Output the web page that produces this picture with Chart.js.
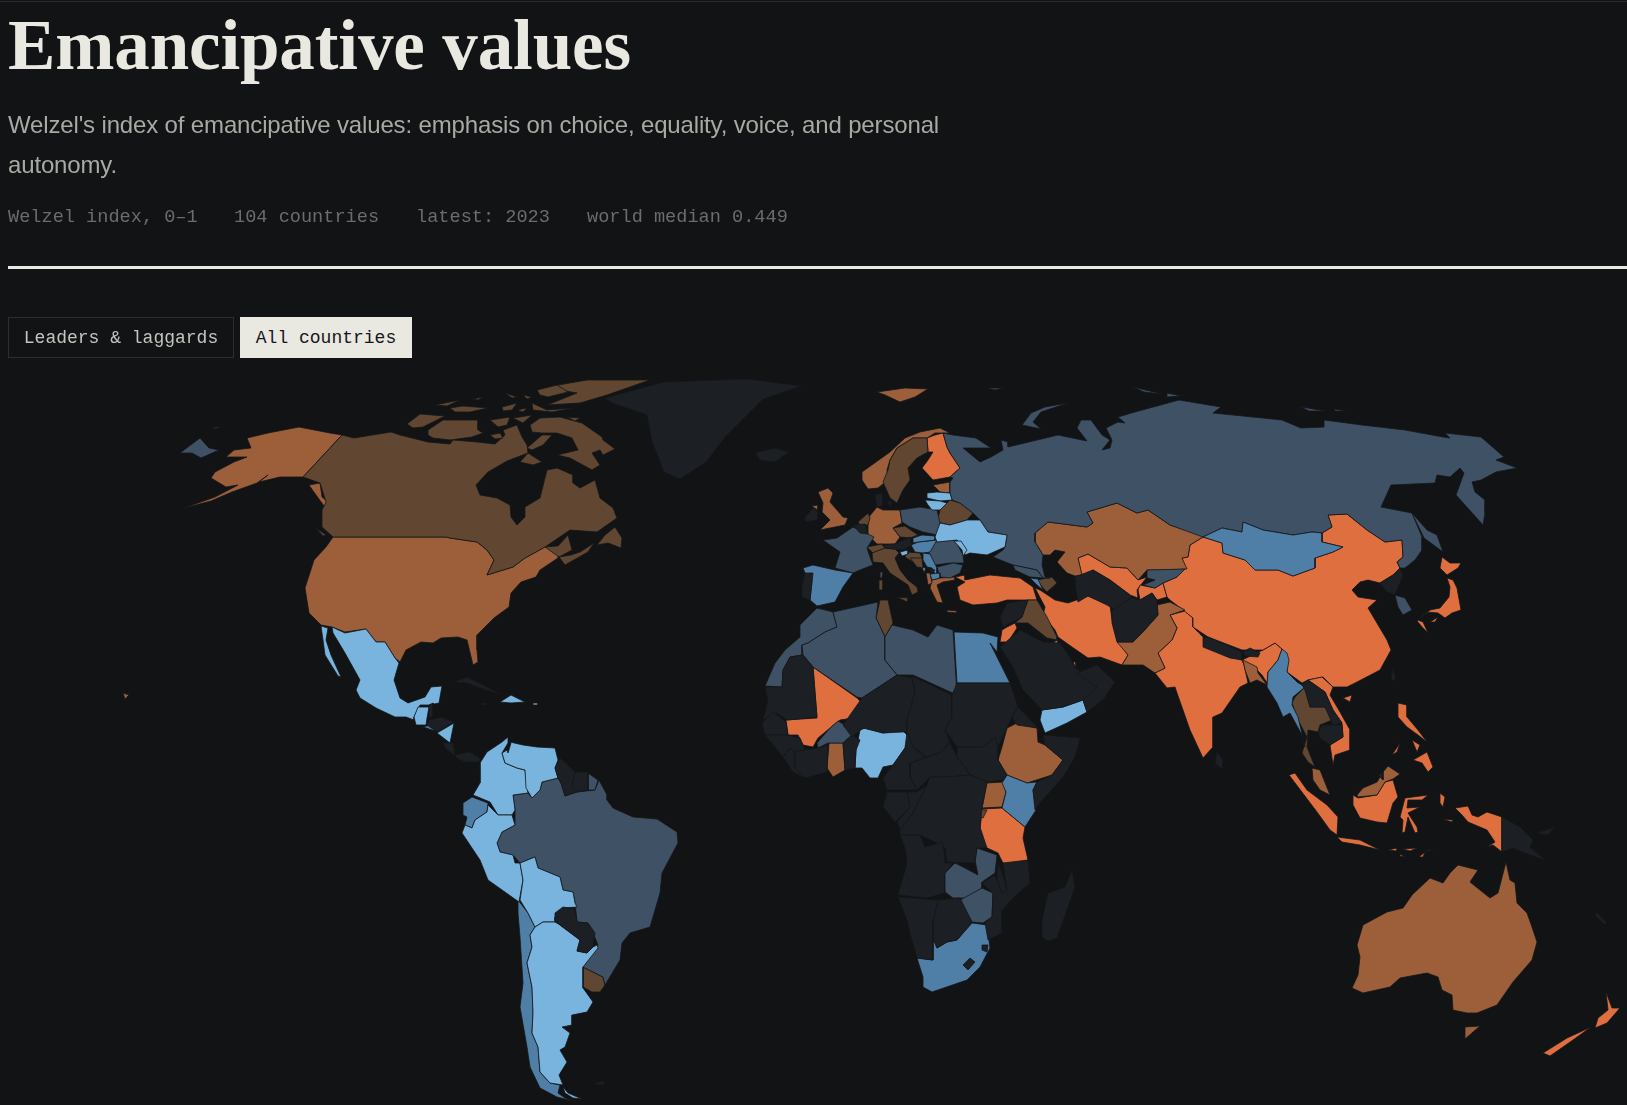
<!DOCTYPE html>
<html>
<head>
<meta charset="utf-8">
<title>Emancipative values</title>
<script src="https://cdn.jsdelivr.net/npm/chart.js@4"></script>
<style>
html, body { margin: 0; padding: 0; background: #111315; width: 1627px; height: 1105px; overflow: hidden; }
#myChart { position: absolute; left: 0; top: 0; }
.topline { position: absolute; left: 0; top: 1px; width: 1627px; height: 1px; background: #2b2d33; }
h1 { position: absolute; left: 8px; top: 5px; margin: 0; font: bold 71px "Liberation Serif", serif; color: #e9e8e1; white-space: nowrap; letter-spacing: -0.12px; }
.sub { position: absolute; left: 8px; top: 105px; width: 960px; font: 24px/39.5px "Liberation Sans", sans-serif; color: #a9a9a4; letter-spacing: -0.15px; }
.meta { position: absolute; top: 207px; font: 18.6px "Liberation Mono", monospace; color: #6b6c6b; white-space: nowrap; }
.rule { position: absolute; left: 8px; top: 266px; width: 1619px; height: 3px; background: #e9e8e1; }
.btn { position: absolute; top: 317px; height: 41px; box-sizing: border-box; font: 18px/41px "Liberation Mono", monospace; text-align: center; white-space: nowrap; }
.off { left: 8px; width: 226px; border: 1px solid #2b2e32; color: #c4c4bf; }
.on { left: 240px; width: 172px; background: #e9e8e1; color: #151719; line-height: 42px; }
</style>
</head>
<body>
<canvas id="myChart" width="1627" height="1105"></canvas>
<div class="topline"></div>
<h1>Emancipative values</h1>
<div class="sub">Welzel's index of emancipative values: emphasis on choice, equality, voice, and personal autonomy.</div>
<div class="meta" style="left:8px">Welzel index, 0–1</div>
<div class="meta" style="left:234px">104 countries</div>
<div class="meta" style="left:416px">latest: 2023</div>
<div class="meta" style="left:587px">world median 0.449</div>
<div class="rule"></div>
<div class="btn off">Leaders &amp; laggards</div>
<div class="btn on">All countries</div>
<script>
// outlines, map units
const canada = [[342,435],[354,438],[391,432],[400,435],[428,442],[450,444],[453,440],[477,442],[495,444],[505,435],[503,430],[517,425],[522,437],[527,445],[528,453],[507,461],[488,472],[476,485],[480,495],[497,498],[510,505],[511,517],[517,525],[525,517],[525,507],[540,498],[542,490],[547,470],[557,468],[573,475],[573,483],[580,488],[595,480],[600,498],[613,508],[617,518],[597,532],[570,530],[545,547],[525,558],[513,567],[487,575],[494,560],[487,550],[477,542],[450,538],[446,537],[333,537],[322,527],[322,510],[326,502],[320,483],[303,477]]
const maritimes = [[545,547],[558,546],[568,535],[572,550],[559,557],[571,555],[580,552],[594,543],[588,552],[565,565],[559,557]]
const newfoundland = [[615,527],[622,538],[621,548],[608,543],[597,545],[605,535]]
const baffin = [[530,425],[540,418],[560,417],[582,423],[602,437],[603,440],[615,449],[603,455],[600,450],[592,453],[600,465],[592,470],[570,458],[557,455],[578,450],[572,438],[557,433],[542,433],[532,432]]
const victoria = [[428,430],[443,420],[467,420],[478,420],[478,430],[483,433],[472,437],[450,440],[433,438],[428,435]]
const banks = [[407,424],[420,414],[445,416],[433,422],[423,427],[413,428]]
const ellesmere = [[558,385],[587,380],[650,380],[627,388],[607,395],[580,403],[547,405],[577,393],[560,390]]
const axel = [[537,390],[557,385],[568,392],[548,397],[540,395]]
const princePatrick = [[435,405],[460,400],[447,406]]
const melville = [[450,408],[463,406],[488,408],[470,412],[455,412]]
const mackenzie = [[473,399],[483,397],[478,400]]
const bathurst = [[502,407],[517,403],[512,410],[503,411]]
const cornwallis = [[517,410],[527,408],[523,412]]
const ringnes = [[505,393],[517,397],[512,398]]
const cornwall = [[523,395],[532,397],[527,399]]
const princeWales = [[490,420],[510,417],[507,425],[498,427]]
const somerset = [[513,418],[532,415],[523,423]]
const kingWilliam = [[490,435],[500,433],[503,438],[495,439]]
const melvillePen = [[527,448],[542,435],[552,435],[543,445],[532,450]]
const southampton = [[520,462],[528,453],[542,462],[533,465]]
const devon = [[532,403],[547,410],[573,408],[552,412],[533,410]]
const bylot = [[567,417],[580,418],[575,421]]
const vancouver = [[316,528],[326,535],[323,536]]
const alaska = [[342,435],[330,433],[299,427],[268,433],[247,438],[251,448],[234,450],[226,457],[247,457],[234,462],[215,472],[211,478],[226,487],[238,485],[215,497],[184,508],[211,501],[232,492],[257,483],[268,475],[259,482],[280,477],[303,477]]
const panhandle = [[303,477],[309,485],[320,483],[322,497],[328,502],[324,506],[316,495],[309,485]]
const hawaii = [[123,693],[129,695],[125,699]]
const usa = [[333,537],[446,537],[450,538],[477,542],[487,550],[494,560],[487,575],[513,567],[525,558],[545,547],[557,546],[558,558],[540,570],[536,577],[521,582],[511,593],[509,607],[494,618],[477,635],[477,650],[478,662],[473,665],[467,640],[458,637],[441,638],[433,643],[421,642],[406,650],[400,662],[395,658],[385,642],[376,642],[366,629],[345,632],[332,627],[321,625],[309,613],[305,588],[314,560],[326,547]]
const mexico = [[332,627],[345,633],[366,629],[376,642],[385,642],[395,658],[399,663],[394,680],[400,698],[408,703],[425,697],[431,687],[442,686],[439,703],[429,705],[420,705],[414,717],[414,720],[406,717],[395,717],[376,708],[360,698],[356,690],[360,680],[345,653],[333,633]]
const baja = [[321,626],[328,628],[326,640],[331,655],[341,677],[338,676],[325,655],[323,640]]
const guatemala = [[414,717],[418,707],[429,707],[427,718],[426,725],[416,725]]
const belize = [[429,705],[433,703],[433,716],[429,718]]
const honduras = [[429,720],[441,717],[454,722],[437,732],[427,725]]
const salvador = [[423,727],[430,725],[435,731]]
const nicaragua = [[437,733],[454,723],[450,743]]
const costaRica = [[442,743],[453,743],[455,755],[447,750]]
const panama = [[455,755],[470,752],[480,758],[480,762],[465,762],[457,758]]
const cuba = [[454,682],[467,677],[483,685],[502,695],[486,690],[467,683]]
const jamaica = [[482,703],[488,703],[488,705],[482,705]]
const dominican = [[500,702],[511,695],[525,702],[511,703]]
const puertoRico = [[533,703],[538,703],[538,705],[533,705]]
const greenland = [[605,398],[664,382],[747,379],[801,386],[763,399],[747,415],[726,436],[706,462],[680,479],[664,472],[652,441],[647,415],[612,403]]
const iceland = [[755,453],[775,448],[789,452],[775,462],[760,460]]
const colombia = [[508,737],[502,742],[487,752],[480,763],[480,783],[473,795],[490,802],[498,815],[512,815],[515,810],[513,795],[528,793],[525,770],[517,768],[505,763],[502,753],[508,743]]
const venezuela = [[510,742],[523,745],[537,747],[555,748],[558,760],[555,768],[558,778],[542,782],[540,790],[532,798],[526,788],[525,770],[517,768],[505,763],[502,753],[507,750],[508,753],[511,743]]
const guyana = [[560,758],[570,767],[575,772],[572,787],[577,792],[565,796],[561,783],[558,778],[555,768]]
const suriname = [[575,772],[588,772],[588,790],[577,792],[572,787]]
const guiana = [[588,773],[598,780],[595,790],[588,790]]
const brazil = [[513,795],[528,793],[532,798],[540,790],[542,782],[558,778],[561,783],[565,796],[577,792],[595,790],[599,780],[607,795],[607,800],[613,808],[633,817],[657,819],[677,832],[678,843],[662,873],[660,893],[650,927],[630,933],[622,943],[620,960],[605,985],[603,977],[583,967],[598,945],[593,933],[588,923],[577,922],[575,903],[573,892],[563,890],[560,877],[538,868],[535,857],[520,863],[513,855],[500,852],[497,843],[502,832],[515,825],[515,810]]
const ecuador = [[472,797],[488,803],[487,812],[475,820],[472,828],[465,825],[467,817],[463,815],[463,803]]
const peru = [[488,805],[498,815],[512,815],[515,825],[502,832],[497,843],[500,852],[513,855],[515,863],[520,863],[523,880],[519,902],[488,880],[480,860],[462,833],[465,825],[472,828],[475,820],[487,812]]
const bolivia = [[520,863],[535,857],[538,868],[560,877],[563,890],[573,892],[575,903],[577,907],[563,908],[555,917],[555,922],[543,922],[535,927],[528,913],[520,900],[523,880]]
const paraguay = [[555,913],[563,907],[575,909],[577,922],[588,923],[595,933],[593,947],[587,953],[577,951],[580,940],[560,925],[555,920]]
const argentina = [[535,927],[543,922],[555,922],[560,925],[580,940],[577,951],[587,953],[593,947],[597,945],[598,948],[583,967],[583,988],[593,1002],[587,1012],[572,1015],[572,1025],[562,1027],[570,1033],[565,1047],[560,1050],[567,1062],[559,1075],[563,1085],[550,1083],[540,1072],[538,1047],[532,1033],[533,1013],[532,987],[527,963],[532,947],[530,935]]
const fuego = [[563,1087],[568,1093],[582,1099],[573,1098],[565,1093]]
const chile = [[518,900],[528,913],[535,927],[530,935],[532,947],[527,963],[532,987],[533,1013],[532,1033],[538,1047],[540,1072],[550,1083],[560,1085],[558,1093],[565,1098],[573,1101],[557,1097],[540,1088],[530,1067],[527,1047],[520,1007],[523,983],[520,937],[518,913]]
const uruguay = [[583,967],[603,977],[605,985],[600,992],[592,992],[583,987]]
const falklands = [[595,1083],[604,1081],[605,1084],[597,1085]]
const norway = [[862,472],[890,452],[905,438],[920,432],[940,428],[950,433],[943,433],[935,433],[927,438],[913,438],[897,448],[890,460],[887,470],[888,480],[878,488],[868,489],[862,480]]
const sweden = [[913,438],[927,438],[928,452],[917,458],[908,468],[910,480],[903,490],[897,503],[890,498],[883,482],[888,470],[890,460],[897,448]]
const finland = [[927,438],[935,435],[943,433],[947,447],[950,453],[960,468],[950,477],[933,480],[922,468],[928,460],[933,452],[928,452]]
const estonia = [[933,485],[950,482],[950,493],[940,492]]
const latvia = [[927,493],[937,492],[950,493],[952,500],[940,501],[927,498]]
const lithuania = [[925,500],[940,501],[947,503],[940,510],[932,510],[928,505]]
const belarus = [[950,500],[960,503],[973,513],[967,520],[950,525],[937,522],[940,510],[947,503]]
const poland = [[900,510],[920,507],[937,510],[940,523],[937,535],[923,532],[910,527],[902,522]]
const ukraine = [[940,523],[950,525],[967,520],[980,520],[988,532],[1007,535],[1005,547],[987,555],[970,553],[965,555],[957,540],[937,542],[935,537]]
const moldova = [[954,541],[961,541],[967,550],[963,556],[962,550]]
const romania = [[928,547],[935,542],[955,540],[963,555],[964,563],[950,563],[935,565],[929,553]]
const bulgaria = [[937,567],[953,563],[963,565],[960,573],[950,578],[940,577]]
const serbia = [[923,553],[930,554],[937,568],[937,578],[932,568],[927,567],[923,560]]
const hungary = [[911,545],[918,542],[937,540],[930,552],[923,553],[915,552]]
const slovakia = [[913,538],[922,535],[935,536],[935,540],[918,542],[913,543]]
const czechia = [[893,528],[905,526],[918,535],[910,538],[900,537]]
const germany = [[877,507],[883,510],[900,510],[902,523],[893,528],[900,537],[895,544],[877,544],[868,535],[868,518]]
const denmark = [[875,495],[882,493],[883,505],[877,507]]
const zealand = [[887,500],[892,502],[890,508]]
const netherlands = [[858,522],[868,513],[870,518],[868,525],[860,525]]
const belgium = [[853,525],[865,524],[868,534],[860,533]]
const france = [[823,540],[837,538],[853,527],[868,534],[874,537],[867,548],[870,557],[873,565],[860,570],[853,573],[835,568],[840,552]]
const corsica = [[880,572],[883,572],[882,578],[880,578]]
const switzerland = [[867,547],[882,544],[885,548],[873,553]]
const austria = [[882,545],[895,544],[910,537],[912,545],[903,550],[893,549],[885,548]]
const slovenia = [[900,552],[908,550],[908,554],[902,556]]
const italy = [[872,553],[885,548],[895,549],[899,553],[895,558],[900,570],[908,580],[917,587],[918,592],[912,595],[908,585],[890,573],[883,563],[873,562]]
const sicily = [[897,597],[908,598],[907,602]]
const sardinia = [[879,580],[883,580],[883,590],[879,590]]
const croatia = [[907,552],[920,553],[923,560],[912,558],[923,570],[913,562],[905,557]]
const bosnia = [[910,558],[922,558],[923,568],[917,567]]
const montenegro = [[922,567],[926,568],[924,573]]
const kosovo = [[928,568],[935,570],[932,573]]
const macedonia = [[930,574],[940,573],[940,578],[932,580]]
const albania = [[926,573],[930,573],[932,583],[928,585]]
const greece = [[932,580],[940,578],[955,577],[955,580],[943,582],[937,585],[943,603],[937,602],[930,588]]
const crete = [[947,610],[957,611],[957,613],[947,612]]
const spain = [[803,568],[813,565],[835,570],[853,573],[843,587],[835,602],[817,606],[810,600],[812,580],[805,573]]
const portugal = [[805,573],[813,573],[810,600],[802,597],[802,587]]
const britain = [[818,492],[828,488],[833,493],[830,502],[843,517],[848,518],[845,525],[820,530],[830,520],[822,512],[823,503]]
const ulster = [[812,506],[818,505],[817,510]]
const ireland = [[805,517],[813,508],[818,512],[817,520],[805,522]]
const svalbard = [[877,392],[905,388],[928,389],[915,397],[900,402],[885,395]]
const russia = [[953,435],[976,438],[991,448],[963,448],[980,462],[991,457],[1003,450],[1001,440],[1008,442],[1008,447],[1033,441],[1058,435],[1087,441],[1077,428],[1081,420],[1091,420],[1102,435],[1110,440],[1102,450],[1110,448],[1112,440],[1106,428],[1118,422],[1125,423],[1118,417],[1135,412],[1179,400],[1221,407],[1213,413],[1263,418],[1282,420],[1301,428],[1324,427],[1324,420],[1362,425],[1405,430],[1443,437],[1450,438],[1445,433],[1481,437],[1504,457],[1496,460],[1517,468],[1496,472],[1481,480],[1472,482],[1475,492],[1485,500],[1485,513],[1483,525],[1456,495],[1464,473],[1460,468],[1450,477],[1437,475],[1435,483],[1391,485],[1381,507],[1412,513],[1422,537],[1422,550],[1415,560],[1405,568],[1400,568],[1397,562],[1403,557],[1402,540],[1385,542],[1367,530],[1347,514],[1328,515],[1332,527],[1322,533],[1312,532],[1293,535],[1263,530],[1243,522],[1242,532],[1222,528],[1203,537],[1170,525],[1148,510],[1137,513],[1117,503],[1087,512],[1093,523],[1087,527],[1048,522],[1035,533],[1035,542],[1043,555],[1042,565],[1045,577],[1050,578],[1043,578],[1037,570],[1013,565],[993,557],[1003,550],[1005,547],[1007,535],[988,532],[980,520],[973,513],[960,503],[952,500],[950,493],[950,482],[953,478],[950,477],[960,468],[950,453],[947,447],[943,433]]
const novaya = [[1068,403],[1045,407],[1031,413],[1022,425],[1041,429],[1033,422],[1041,412]]
const severnaya = [[1133,387],[1162,394],[1144,392]]
const bolshevik = [[1167,393],[1181,396],[1167,397]]
const newSiberia = [[1301,407],[1326,411],[1309,411]]
const kotelny = [[1334,409],[1347,411],[1335,411]]
const franzJosef = [[987,388],[1003,388],[995,390]]
const sakhalin = [[1412,513],[1427,530],[1437,535],[1443,552],[1424,538]]
const chukotka = [[180,453],[200,438],[209,448],[219,450],[201,458],[192,453]]
const wrangel = [[213,428],[222,426],[215,429]]
const georgia = [[1013,565],[1037,570],[1043,578],[1030,577],[1015,570]]
const azerbaijan = [[1037,580],[1052,577],[1057,583],[1047,592],[1043,588]]
const armenia = [[1030,578],[1038,579],[1043,590],[1037,585]]
const turkey = [[955,577],[965,575],[965,580],[990,575],[1020,578],[1033,587],[1037,600],[1007,600],[997,603],[973,605],[960,600],[957,587],[965,582]]
const syria = [[1007,603],[1028,600],[1025,608],[1022,617],[1003,627],[1000,617]]
const jordan = [[1007,627],[1015,623],[1017,628],[1008,642],[1000,642],[1002,630]]
const iraq = [[1028,600],[1037,600],[1047,617],[1057,637],[1057,640],[1047,638],[1028,623],[1015,623],[1022,617],[1025,608]]
const iran = [[1035,588],[1040,590],[1055,600],[1068,603],[1088,596],[1110,605],[1112,620],[1117,640],[1128,655],[1122,665],[1100,657],[1088,658],[1072,647],[1058,637],[1055,630],[1043,615],[1045,607]]
const saudi = [[1000,647],[1020,630],[1043,642],[1060,643],[1070,657],[1075,668],[1093,680],[1097,690],[1083,700],[1063,707],[1042,710],[1023,690],[1013,667]]
const oman = [[1077,673],[1097,665],[1115,682],[1103,700],[1087,712],[1083,700],[1097,687]]
const yemen = [[1042,710],[1063,707],[1083,700],[1087,712],[1067,723],[1045,733],[1040,720]]
const kuwait = [[1053,642],[1058,640],[1058,645]]
const qatar = [[1073,662],[1076,662],[1076,668]]
const kazakhstan = [[1035,533],[1048,522],[1087,527],[1093,523],[1087,512],[1117,503],[1137,513],[1148,510],[1170,525],[1202,535],[1203,537],[1190,545],[1188,557],[1182,558],[1187,569],[1167,570],[1147,570],[1138,580],[1127,568],[1110,567],[1088,554],[1078,558],[1082,575],[1075,576],[1067,573],[1057,562],[1065,552],[1055,550],[1050,555],[1043,555],[1035,542]]
const uzbekistan = [[1078,558],[1088,554],[1110,567],[1127,568],[1138,580],[1147,577],[1137,590],[1138,598],[1130,595],[1110,580],[1093,570],[1082,577]]
const turkmenistan = [[1075,577],[1093,570],[1110,580],[1130,595],[1132,597],[1115,610],[1107,605],[1088,596],[1078,602],[1076,590]]
const kyrgyzstan = [[1147,570],[1185,569],[1177,577],[1163,583],[1155,588],[1143,585],[1155,580],[1147,578]]
const tajikistan = [[1138,590],[1140,585],[1155,588],[1163,583],[1167,597],[1157,600],[1152,593],[1140,600]]
const afghanistan = [[1112,610],[1132,598],[1140,600],[1152,593],[1157,600],[1158,615],[1142,633],[1133,642],[1117,642],[1112,623]]
const pakistan = [[1157,605],[1170,602],[1185,610],[1170,615],[1177,628],[1172,640],[1158,653],[1165,668],[1155,673],[1143,665],[1122,665],[1128,655],[1117,642],[1133,642],[1142,633],[1158,615]]
const india = [[1170,615],[1185,611],[1193,618],[1193,627],[1203,637],[1207,648],[1242,660],[1243,660],[1248,683],[1240,687],[1222,713],[1213,717],[1213,747],[1203,758],[1190,730],[1177,693],[1175,687],[1167,688],[1155,673],[1165,668],[1158,653],[1172,640],[1177,628]]
const indiaEast = [[1242,660],[1263,650],[1275,643],[1282,649],[1278,660],[1268,672],[1267,683],[1262,675],[1257,670],[1243,663]]
const bangladesh = [[1243,660],[1257,667],[1258,673],[1267,685],[1257,680],[1250,683],[1245,670]]
const nepal = [[1203,638],[1208,637],[1242,652],[1242,660],[1230,658],[1203,647]]
const bhutan = [[1243,652],[1250,648],[1260,653],[1258,657],[1245,656]]
const sriLanka = [[1217,752],[1223,760],[1222,769],[1215,763]]
const china = [[1203,537],[1222,543],[1223,553],[1245,560],[1255,570],[1278,570],[1293,576],[1315,568],[1315,558],[1333,552],[1343,547],[1322,542],[1322,533],[1332,527],[1328,515],[1347,514],[1367,530],[1385,542],[1402,540],[1403,557],[1397,562],[1400,568],[1393,575],[1380,583],[1368,580],[1360,582],[1352,590],[1358,597],[1377,600],[1368,608],[1387,640],[1391,650],[1380,670],[1357,682],[1347,687],[1333,687],[1323,677],[1308,680],[1302,683],[1287,672],[1288,660],[1282,649],[1275,643],[1263,650],[1242,650],[1208,637],[1193,627],[1193,618],[1183,610],[1170,600],[1167,597],[1163,583],[1177,577],[1185,569],[1182,558],[1188,557],[1190,545]]
const hainan = [[1343,698],[1352,695],[1350,702]]
const taiwan = [[1393,667],[1396,680],[1391,680]]
const mongolia = [[1203,537],[1222,528],[1242,532],[1243,522],[1263,530],[1293,535],[1312,532],[1322,533],[1322,542],[1343,547],[1333,552],[1315,558],[1315,568],[1293,576],[1278,570],[1255,570],[1245,560],[1223,553],[1222,543]]
const northKorea = [[1380,583],[1393,575],[1400,568],[1403,575],[1395,595],[1387,592]]
const southKorea = [[1395,595],[1405,598],[1412,610],[1403,615],[1398,607]]
const hokkaido = [[1442,557],[1450,563],[1461,563],[1458,568],[1447,575],[1440,568]]
const honshu = [[1447,578],[1453,580],[1457,588],[1461,610],[1452,613],[1445,618],[1438,613],[1427,612],[1418,620],[1423,622],[1428,633],[1423,628],[1417,621],[1430,610],[1440,608],[1449,597],[1450,587]]
const shikoku = [[1430,622],[1438,617],[1435,622]]
const myanmar = [[1268,672],[1278,660],[1282,649],[1287,653],[1289,660],[1287,672],[1297,682],[1305,687],[1293,697],[1292,705],[1298,717],[1305,747],[1302,735],[1290,713],[1283,717],[1277,703],[1267,687]]
const laos = [[1302,685],[1308,680],[1325,692],[1333,710],[1342,723],[1333,725],[1325,707],[1310,707],[1305,690]]
const thailand = [[1305,687],[1310,707],[1325,707],[1332,720],[1320,725],[1318,732],[1308,730],[1307,747],[1315,767],[1308,762],[1302,753],[1307,737],[1298,720],[1292,703],[1295,697]]
const cambodia = [[1318,732],[1322,725],[1342,725],[1343,737],[1330,745],[1320,738]]
const vietnam = [[1308,680],[1322,677],[1333,687],[1330,695],[1340,712],[1350,730],[1350,750],[1335,755],[1333,765],[1330,745],[1343,737],[1342,723],[1333,710],[1325,692]]
const malaya = [[1312,768],[1320,770],[1330,795],[1320,790],[1313,780]]
const sumatra = [[1289,775],[1295,773],[1307,790],[1327,805],[1338,817],[1337,835],[1330,830],[1317,812]]
const java = [[1337,837],[1360,840],[1380,850],[1360,845],[1342,842]]
const bali = [[1388,850],[1397,848],[1397,851]]
const flores = [[1403,849],[1417,848],[1410,851]]
const sumba = [[1400,854],[1405,857],[1400,856]]
const timor = [[1419,857],[1425,852],[1423,857]]
const timorLeste = [[1425,851],[1435,848],[1428,852]]
const borneo = [[1353,795],[1358,798],[1377,795],[1385,782],[1393,780],[1398,797],[1393,803],[1387,823],[1377,822],[1360,818],[1353,805]]
const sabah = [[1357,795],[1363,788],[1377,782],[1383,772],[1388,766],[1400,774],[1393,779],[1385,782],[1377,795],[1358,797]]
const brunei = [[1378,775],[1383,772],[1383,780]]
const sulawesi = [[1405,798],[1428,795],[1422,800],[1408,800],[1407,808],[1420,807],[1408,813],[1417,827],[1418,832],[1415,833],[1408,817],[1405,832],[1402,833],[1403,820],[1400,817]]
const halmahera = [[1440,793],[1445,797],[1443,807],[1440,803]]
const seram = [[1442,819],[1453,820],[1452,822]]
const papua = [[1455,808],[1468,806],[1472,815],[1478,817],[1487,812],[1502,817],[1502,852],[1493,845],[1487,847],[1495,842],[1487,830],[1468,822],[1462,815]]
const png = [[1502,817],[1520,827],[1533,840],[1530,847],[1545,860],[1530,855],[1513,848],[1502,852]]
const newBritain = [[1537,833],[1555,827],[1548,835]]
const luzon = [[1398,703],[1407,705],[1407,717],[1418,730],[1427,742],[1418,735],[1407,727],[1398,717]]
const mindanao = [[1413,760],[1427,752],[1433,767],[1428,772],[1422,763]]
const visayas = [[1412,740],[1420,745],[1417,752]]
const palawan = [[1392,755],[1400,743],[1397,752]]
const australia = [[1458,865],[1478,870],[1470,882],[1490,898],[1498,893],[1506,862],[1510,880],[1515,883],[1517,903],[1527,913],[1532,927],[1537,942],[1532,960],[1513,982],[1497,1005],[1477,1013],[1467,1013],[1453,1010],[1452,995],[1442,990],[1438,977],[1427,973],[1400,978],[1390,987],[1363,993],[1352,988],[1358,975],[1360,957],[1357,945],[1363,925],[1387,912],[1403,908],[1412,895],[1430,878],[1443,883],[1450,873]]
const tasmania = [[1465,1027],[1480,1026],[1465,1039]]
const nzSouth = [[1543,1053],[1567,1038],[1591,1027],[1573,1040],[1550,1056]]
const nzNorth = [[1595,1028],[1598,1018],[1608,1010],[1606,992],[1612,1008],[1620,1008],[1607,1023]]
const newCaledonia = [[1597,913],[1607,923],[1604,924],[1595,915]]
const morocco = [[817,608],[833,612],[837,627],[825,632],[808,643],[802,645],[802,655],[790,657],[783,670],[782,687],[765,686],[775,663],[785,650],[800,637],[800,625]]
const algeria = [[833,612],[878,602],[876,618],[885,637],[885,660],[897,675],[862,698],[857,697],[813,667],[803,655],[802,645],[808,643],[825,632],[837,627]]
const tunisia = [[880,600],[888,600],[893,623],[885,637],[876,618]]
const libya = [[892,625],[913,630],[928,637],[937,625],[953,630],[957,695],[913,675],[897,675],[885,660],[885,637]]
const egypt = [[954,632],[983,633],[998,637],[997,652],[990,643],[1010,683],[957,683]]
const mauritania = [[782,687],[783,670],[790,657],[803,655],[813,667],[817,717],[787,720],[777,713],[763,720],[768,700],[765,687]]
const mali = [[813,667],[857,698],[861,702],[859,717],[840,720],[830,728],[818,738],[813,747],[803,745],[798,735],[788,735],[786,720],[817,718]]
const senegal = [[762,723],[773,712],[786,722],[788,735],[765,735]]
const guinea = [[765,735],[788,735],[800,738],[803,745],[805,750],[795,752],[790,748],[783,757],[775,747]]
const liberia = [[783,757],[790,748],[795,752],[795,768],[805,778],[793,772]]
const ivoryCoast = [[795,752],[805,750],[818,748],[828,745],[827,772],[805,778],[795,768]]
const burkina = [[817,743],[830,728],[838,721],[845,725],[852,735],[843,743],[828,743],[818,748]]
const ghana = [[829,743],[843,743],[845,770],[833,777],[827,768]]
const benin = [[843,743],[852,735],[860,740],[856,750],[855,768],[845,770]]
const niger = [[843,725],[862,698],[897,675],[912,678],[915,692],[907,720],[907,732],[902,732],[883,733],[863,728],[852,737]]
const nigeria = [[860,730],[865,728],[883,733],[902,730],[909,737],[905,748],[893,765],[883,767],[878,778],[870,778],[862,768],[855,768],[856,750]]
const chad = [[912,676],[952,695],[952,717],[945,730],[950,742],[940,753],[927,757],[913,747],[907,732],[907,720],[915,692]]
const sudan = [[957,683],[1010,683],[1018,707],[1012,717],[1007,728],[998,747],[995,737],[983,747],[957,747],[945,730],[952,717],[952,695]]
const eritrea = [[1018,707],[1042,732],[1037,728],[1017,725],[1012,717]]
const ethiopia = [[1007,728],[1017,723],[1037,728],[1038,742],[1045,745],[1063,760],[1052,775],[1027,783],[1007,775],[998,760],[1002,747]]
const somalia = [[1043,735],[1080,738],[1075,757],[1063,777],[1040,803],[1035,810],[1033,790],[1037,782],[1052,775],[1063,760],[1045,745]]
const southSudan = [[957,747],[983,747],[995,737],[998,747],[998,760],[1007,775],[1003,780],[988,782],[970,775],[957,757]]
const car = [[927,757],[940,753],[950,743],[957,757],[970,775],[947,777],[930,777],[917,790],[910,777],[910,763]]
const cameroon = [[907,732],[913,747],[926,757],[910,763],[910,777],[917,790],[887,790],[883,778],[893,765],[905,748]]
const gabon = [[887,792],[907,792],[910,807],[900,817],[895,822],[883,807]]
const congo = [[907,792],[917,792],[927,785],[913,813],[900,830],[897,822],[910,807]]
const drc = [[930,777],[947,777],[970,775],[987,782],[982,808],[980,827],[987,848],[977,848],[975,863],[947,862],[945,848],[935,842],[920,835],[900,835],[900,830],[913,813],[927,785]]
const uganda = [[987,783],[1003,782],[1006,792],[1002,807],[982,808]]
const kenya = [[1007,775],[1027,783],[1037,782],[1033,790],[1036,810],[1025,827],[1002,808],[1006,792],[1002,783]]
const rwanda = [[980,810],[987,810],[983,818],[979,817]]
const tanzania = [[982,809],[1002,808],[1025,827],[1023,838],[1028,860],[1012,865],[1003,863],[998,853],[985,847],[980,830]]
const angola = [[900,835],[920,835],[925,847],[943,842],[945,863],[953,863],[944,875],[945,893],[927,898],[898,895],[907,863],[905,848]]
const zambia = [[945,873],[955,863],[963,867],[978,875],[975,860],[977,848],[997,855],[995,873],[982,882],[982,888],[967,898],[953,898],[945,892]]
const malawi = [[998,863],[1002,873],[1007,890],[1002,893],[997,882]]
const mozambique = [[1003,863],[1028,860],[1030,883],[1013,898],[1002,910],[1002,933],[988,940],[985,923],[992,917],[993,893],[982,883],[995,875],[1002,893],[1007,890]]
const zimbabwe = [[960,900],[982,888],[993,893],[992,917],[983,923],[972,922]]
const botswana = [[938,900],[960,898],[972,922],[957,940],[947,942],[937,948],[933,938],[933,922]]
const namibia = [[898,897],[938,900],[933,922],[933,960],[917,958],[910,933],[907,920]]
const southAfrica = [[987,925],[990,948],[980,967],[967,980],[932,992],[923,987],[923,977],[917,958],[933,960],[933,938],[937,948],[947,942],[957,940],[972,923]]
const lesotho = [[963,965],[970,958],[975,962],[968,970]]
const eswatini = [[982,945],[988,945],[987,952],[982,950]]
const madagascar = [[1072,870],[1075,887],[1057,938],[1048,941],[1042,937],[1042,920],[1048,893],[1065,887]]

// countries by index band, lowest band to highest
const highest = [finland, turkey, iran, uzbekistan, tajikistan, india, indiaEast, china, hainan, vietnam, kuwait, qatar, jordan, tanzania, mali, sumatra, java, bali, flores, sumba, timor, borneo, sulawesi, halmahera, seram, papua, luzon, mindanao, visayas, palawan, hokkaido, honshu, shikoku, nzSouth, nzNorth]
const high = [usa, alaska, panhandle, hawaii, australia, tasmania, norway, estonia, germany, britain, ulster, greece, crete, albania, kazakhstan, pakistan, bangladesh, ethiopia, uganda, ghana, malaya, sabah, svalbard]
const upper = [canada, maritimes, newfoundland, baffin, victoria, banks, ellesmere, axel, princePatrick, melville, mackenzie, bathurst, cornwallis, ringnes, cornwall, princeWales, somerset, kingWilliam, melvillePen, southampton, devon, bylot, vancouver, uruguay, sweden, belarus, czechia, netherlands, switzerland, italy, sicily, sardinia, croatia, bosnia, tunisia, iraq, azerbaijan, thailand, rwanda]
const lower = [russia, novaya, severnaya, bolshevik, newSiberia, kotelny, franzJosef, sakhalin, chukotka, wrangel, brazil, guiana, france, corsica, poland, romania, bulgaria, georgia, kyrgyzstan, southKorea, morocco, algeria, libya, burkina, zambia, zimbabwe]
const low = [spain, ecuador, chile, salvador, hungary, slovakia, serbia, montenegro, macedonia, armenia, mongolia, myanmar, egypt, kenya, southAfrica]
const lowest = [mexico, baja, guatemala, nicaragua, dominican, puertoRico, colombia, venezuela, peru, bolivia, argentina, fuego, latvia, lithuania, ukraine, moldova, slovenia, yemen, nigeria]
const noData = [greenland, iceland, belize, honduras, costaRica, panama, cuba, jamaica, guyana, suriname, paraguay, falklands, denmark, zealand, belgium, austria, kosovo, portugal, ireland, syria, saudi, oman, turkmenistan, afghanistan, nepal, bhutan, sriLanka, taiwan, northKorea, laos, cambodia, timorLeste, brunei, png, newBritain, newCaledonia, mauritania, senegal, guinea, liberia, ivoryCoast, benin, niger, chad, sudan, eritrea, somalia, southSudan, car, cameroon, gabon, congo, drc, angola, malawi, mozambique, botswana, namibia, lesotho, eswatini, madagascar]

const bands = [
    [highest, '#e06f3f'],
    [high, '#9c5f3a'],
    [upper, '#614631'],
    [lower, '#3e5165'],
    [low, '#4f7fa6'],
    [lowest, '#79b4de'],
    [noData, '#1c2024'],
]

const datasets = []
bands.forEach(([list, color]) => {
    list.forEach((outline) => {
        const puntos = outline.concat([outline[0]]).map((p) => ({ x: p[0], y: p[1] }))
        datasets.push({
            data: puntos,
            backgroundColor: color,
            borderColor: '#15181b',
            borderWidth: 0.8,
            fill: 'shape',
            pointRadius: 0,
            tension: 0,
            clip: false,
            order: -datasets.length,
        })
    })
})

new Chart(document.getElementById('myChart'), {
    type: 'line',
    data: { datasets },
    options: {
        responsive: false,
        animation: false,
        events: [],
        layout: { padding: 0 },
        plugins: { legend: { display: false }, tooltip: { enabled: false }, title: { display: false } },
        scales: {
            x: { type: 'linear', display: false, min: 0, max: 1627 },
            y: { type: 'linear', display: false, min: 0, max: 1105, reverse: true },
        },
    },
})
</script>
</body>
</html>
